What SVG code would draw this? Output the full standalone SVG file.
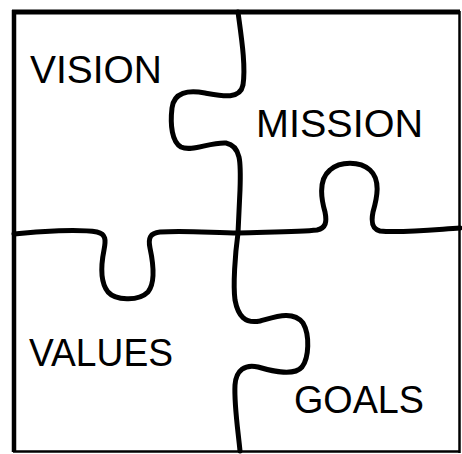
<svg xmlns="http://www.w3.org/2000/svg" width="462" height="454" viewBox="0 0 462 454">
<style>
.cut{fill:none;stroke:#000;stroke-width:5;stroke-linecap:round;stroke-linejoin:round}
.lbl{font-family:"Liberation Sans",Arial,sans-serif;font-size:39px;fill:#000}
</style>
<rect width="462" height="454" fill="#fff"/>
<g id="frame" fill="none" stroke="#000">
<line x1="12" y1="12" x2="460" y2="12" stroke-width="5"/>
<line x1="14" y1="10" x2="14" y2="452" stroke-width="4.5"/>
<line x1="459.5" y1="11" x2="459.5" y2="453" stroke-width="2.5"/>
<line x1="13" y1="451.5" x2="460" y2="451.5" stroke-width="2.5"/>
</g>
<g id="cuts">
<path class="cut" d="M238,12 C241,35 246,65 243,85 C240,100 222,96 205,93 C188,90 174,92 172,108 C170,125 172,142 181,147 C192,152 210,142 226,143 C241,146 241,162 240,190 L238,233"/>
<path class="cut" d="M14,234 C40,231 80,229 97,232 C106,234 106,240 104,250 C101,265 100,282 108,292 C115,300 138,302 148,292 C156,282 153,262 150,248 C148,238 150,233 160,232 C185,230 215,233 238,233"/>
<path class="cut" d="M238,233 C270,232 300,232 317,230 C326,228 327,222 325,212 C321,198 318,180 330,170 C340,161 360,161 370,170 C381,180 377,198 373,212 C371,222 372,229 380,231 C400,233 430,230 460,228"/>
<path class="cut" d="M238,233 C235,255 233,285 235,300 C238,316 245,324 260,321 C275,317 293,310 303,323 C310,335 309,358 302,367 C294,376 275,372 258,367 C245,364 236,370 235,385 C234,405 238,430 240,451"/>
</g>
<g id="labels">
<text class="lbl" x="30" y="83" textLength="132" lengthAdjust="spacingAndGlyphs">VISION</text>
<text class="lbl" x="256" y="137" textLength="167" lengthAdjust="spacingAndGlyphs">MISSION</text>
<text class="lbl" x="29" y="366" textLength="144" lengthAdjust="spacingAndGlyphs">VALUES</text>
<text class="lbl" x="294" y="413" textLength="130" lengthAdjust="spacingAndGlyphs">GOALS</text>
</g>
</svg>
